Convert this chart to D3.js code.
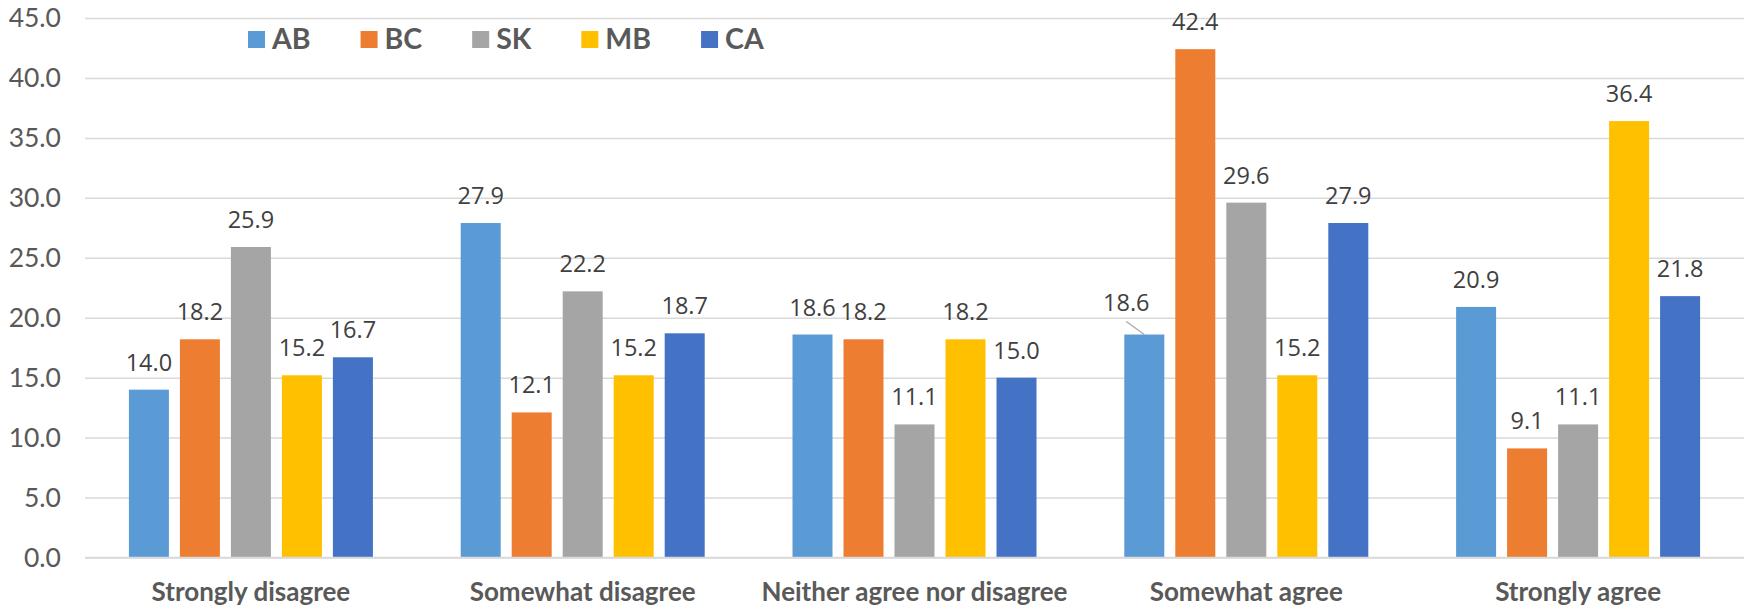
<!DOCTYPE html>
<html><head><meta charset="utf-8">
<script src="https://cdn.jsdelivr.net/npm/d3@7"></script>
<style>html,body{margin:0;padding:0;background:#fff;}svg{display:block;}</style>
</head><body>
<svg id="chart" width="1746" height="608"></svg>
<script>
const categories = ["Strongly disagree","Somewhat disagree","Neither agree nor disagree","Somewhat agree","Strongly agree"];
const seriesNames = ["AB","BC","SK","MB","CA"];
const AB = [14.0, 27.9, 18.6, 18.6, 20.9];
const BC = [18.2, 12.1, 18.2, 42.4, 9.1];
const SK = [25.9, 22.2, 11.1, 29.6, 11.1];
const MB = [15.2, 15.2, 18.2, 15.2, 36.4];
const CA = [16.7, 18.7, 15.0, 27.9, 21.8];
const tickValues = [0,5,10,15,20,25,30,35,40,45];
const colors = ["#5B9BD5","#ED7D31","#A5A5A5","#FFC000","#4472C4"];
const seriesValues = [AB, BC, SK, MB, CA];

const svg = d3.select("#chart");
const plotL = 85, plotR = 1744, plotT = 18, plotB = 557.5;
const FONT = "Lato, 'Open Sans', sans-serif";
const LABELFONT = "'Open Sans', Lato, sans-serif";

const y = d3.scaleLinear().domain([0,45]).range([plotB, plotT]);
const x0 = d3.scaleBand().domain(categories).range([plotL, plotR]).padding(0);
const groupW = 244;
const x1 = d3.scaleBand().domain(seriesNames).range([0, groupW]).paddingInner(11/51).paddingOuter(0);
const off = (x0.bandwidth() - groupW) / 2;

// gridlines
const yAxis = d3.axisLeft(y).tickValues(tickValues).tickSize(-(plotR-plotL)).tickFormat(d3.format(".1f")).tickPadding(24);
const ga = svg.append("g").attr("transform", `translate(${plotL},0)`).call(yAxis);
ga.select(".domain").remove();
ga.selectAll(".tick line").attr("stroke", "#d9d9d9").attr("stroke-width", 1.5);
ga.selectAll(".tick text").attr("fill", "#595959").attr("font-family", FONT).attr("font-size", 26.5).attr("dy", "0.33em");

// bars
const data = [];
categories.forEach((c, ci) => seriesNames.forEach((s, si) => data.push({c, s, si, v: seriesValues[si][ci]})));
svg.append("g").selectAll("rect").data(data).join("rect")
  .attr("x", d => x0(d.c) + off + x1(d.s))
  .attr("width", x1.bandwidth())
  .attr("y", d => y(d.v))
  .attr("height", d => y(0) - y(d.v))
  .attr("fill", d => colors[d.si]);

// baseline
svg.append("line").attr("x1", plotL).attr("x2", plotR).attr("y1", y(0)).attr("y2", y(0)).attr("stroke", "#d9d9d9").attr("stroke-width", 1.5);

// data labels (one label moved by the original with a leader line)
const moved = {"Somewhat agree|AB": {dx: -18, dy: -5}};
const lg = svg.append("g");
data.forEach(d => {
  const cx = x0(d.c) + off + x1(d.s) + x1.bandwidth()/2;
  const ty = y(d.v) - 19;
  const m = moved[d.c + "|" + d.s];
  if (m) {
    lg.append("line").attr("x1", cx + m.dx).attr("y1", ty + m.dy + 11).attr("x2", cx).attr("y2", y(d.v))
      .attr("stroke", "#a6a6a6").attr("stroke-width", 1.2);
  }
  lg.append("text").attr("x", cx + (m ? m.dx : 0)).attr("y", ty + (m ? m.dy : 0))
    .attr("text-anchor", "middle").attr("font-family", LABELFONT).attr("font-size", 23.5)
    .attr("fill", "#404040").text(d3.format(".1f")(d.v));
});

// category labels
const xAxis = d3.axisBottom(x0).tickSize(0).tickPadding(0);
const gx = svg.append("g").attr("transform", `translate(0,${y(0)})`).call(xAxis);
gx.select(".domain").remove();
gx.selectAll(".tick text").attr("y", 43.5).attr("dy", 0).attr("fill", "#595959").attr("font-family", FONT)
  .attr("font-size", 26).attr("font-weight", "bold");

// legend
const leg = svg.append("g");
let lx = 248;
seriesNames.forEach((s, i) => {
  leg.append("rect").attr("x", lx).attr("y", 31).attr("width", 17).attr("height", 17).attr("fill", colors[i]);
  const t = leg.append("text").attr("x", lx + 24).attr("y", 49).attr("font-family", FONT)
    .attr("font-size", 28.5).attr("font-weight", "bold").attr("fill", "#595959").text(s);
  lx += 24 + t.node().getComputedTextLength() + 50;
});
</script>
</body></html>
